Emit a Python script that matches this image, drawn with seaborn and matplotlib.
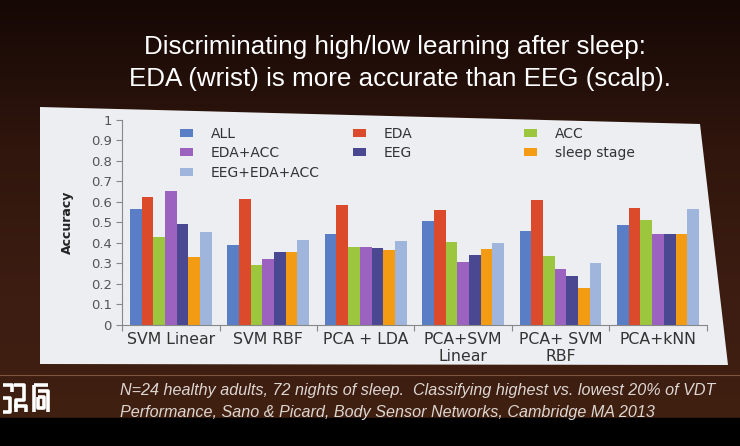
import matplotlib
matplotlib.use('Agg')
import matplotlib.pyplot as plt
from matplotlib.patches import Patch, Polygon, Rectangle
import numpy as np
import pandas as pd
import seaborn as sns

# Data
methods = ['SVM Linear', 'SVM RBF', 'PCA + LDA', 'PCA+SVM\nLinear', 'PCA+ SVM\nRBF', 'PCA+kNN']
features = ['ALL', 'EDA', 'ACC', 'EDA+ACC', 'EEG', 'sleep stage', 'EEG+EDA+ACC']
acc_all = [0.565, 0.39, 0.445, 0.505, 0.46, 0.485]
acc_eda = [0.625, 0.615, 0.585, 0.56, 0.61, 0.57]
acc_acc = [0.43, 0.29, 0.38, 0.405, 0.335, 0.51]
acc_eda_acc = [0.655, 0.32, 0.38, 0.305, 0.27, 0.445]
acc_eeg = [0.49, 0.355, 0.375, 0.34, 0.24, 0.445]
acc_sleep = [0.33, 0.355, 0.365, 0.37, 0.18, 0.445]
acc_combo = [0.455, 0.415, 0.41, 0.4, 0.3, 0.565]
colors = ['#5a7ec6', '#dc4a2c', '#9cc63e', '#9b62c0', '#4a4890', '#f39c13', '#a0b5dc']

series = [acc_all, acc_eda, acc_acc, acc_eda_acc, acc_eeg, acc_sleep, acc_combo]
rows = []
for feat, vals in zip(features, series):
    for m, v in zip(methods, vals):
        rows.append({'method': m, 'feature': feat, 'accuracy': v})
df = pd.DataFrame(rows)

fig = plt.figure(figsize=(7.4, 4.46), dpi=100)

# slide background in pixel coordinates
bg = fig.add_axes([0, 0, 1, 1])
grad = np.linspace(0, 1, 200)[:, None]
bg_cmap = matplotlib.colors.LinearSegmentedColormap.from_list('bg', ['#160805', '#30160d', '#3d1d12', '#40200f'])
bg.imshow(grad, cmap=bg_cmap, extent=[0, 740, 446, 0], aspect='auto')
bg.set_xlim(0, 740)
bg.set_ylim(446, 0)
bg.axis('off')
bg.add_patch(Rectangle((0, 418), 740, 30, color='black'))
bg.add_patch(Polygon([(40, 107), (700, 124), (728, 365), (40, 364)], closed=True,
                     facecolor='#eceef1', edgecolor='none'))
bg.plot([0, 740], [375, 375], color='#7d5343', lw=0.8)

# title
bg.text(395, 47, 'Discriminating high/low learning after sleep:', color='white',
        fontsize=18.7, family='Liberation Sans', ha='center', va='center')
bg.text(400, 79, 'EDA (wrist) is more accurate than EEG (scalp).', color='white',
        fontsize=18.7, family='Liberation Sans', ha='center', va='center')

# footer
bg.text(120, 391, 'N=24 healthy adults, 72 nights of sleep.  Classifying highest vs. lowest 20% of VDT',
        color='#ddd6d2', fontsize=11.6, style='italic', family='Liberation Sans', va='center')
bg.text(120, 413, 'Performance, Sano & Picard, Body Sensor Networks, Cambridge MA 2013',
        color='#ddd6d2', fontsize=11.6, style='italic', family='Liberation Sans', va='center')

# logo sketch
logo = [[(3, 385), (12, 385), (12, 392)], [(3, 398), (10, 398), (10, 412), (3, 412)],
        [(14, 385), (24, 385), (24, 400), (16, 400), (16, 412)],
        [(14, 406), (26, 406), (26, 412)],
        [(34, 385), (48, 385)], [(34, 385), (34, 412)], [(38, 391), (48, 391), (48, 412)],
        [(38, 397), (44, 397), (44, 408), (38, 408), (38, 397)]]
for seg in logo:
    xs, ys = zip(*seg)
    bg.plot(xs, ys, color='white', lw=2.6, solid_capstyle='butt')

# chart
ax = fig.add_axes([0.165, 0.272, 0.79, 0.459])
ax.patch.set_alpha(0)
sns.barplot(data=df, x='method', y='accuracy', hue='feature', palette=colors,
            width=0.84, saturation=1, legend=False, ax=ax)
ax.set_ylim(0, 1)
ax.set_xlim(-0.5, 5.5)
ax.set_yticks(np.arange(0, 1.01, 0.1))
ax.set_yticklabels(['0', '0.1', '0.2', '0.3', '0.4', '0.5', '0.6', '0.7', '0.8', '0.9', '1'])
ax.set_xticks(np.arange(-0.5, 6, 1))
ax.set_xticklabels([])
ax.set_xticks(range(len(methods)), minor=True)
ax.set_xticklabels(methods, minor=True, fontsize=11.3, color='#333333', linespacing=1.2)
ax.tick_params(axis='x', which='major', length=4, color='#888888')
ax.tick_params(axis='x', which='minor', length=0, pad=5)
ax.tick_params(axis='y', length=4, color='#888888', labelsize=9.5, labelcolor='#555555')
ax.set_xlabel('')
ax.set_ylabel('Accuracy', fontsize=9, fontweight='bold', color='#222222', labelpad=12)
for s in ['top', 'right']:
    ax.spines[s].set_visible(False)
for s in ['left', 'bottom']:
    ax.spines[s].set_color('#888888')

# legend in three columns
handles = [Patch(facecolor=c, edgecolor='none') for c in colors]
groups = [([0, 3, 6], 174), ([1, 4], 347), ([2, 5], 518)]
for idx, xpix in groups:
    leg = fig.legend([handles[i] for i in idx], [features[i] for i in idx],
                     loc='upper left', bbox_to_anchor=(xpix / 740, 1 - 121 / 446),
                     frameon=False, fontsize=10, handlelength=0.95, handleheight=0.5,
                     labelspacing=0.4, handletextpad=1.3, borderaxespad=0)
    for t in leg.get_texts():
        t.set_color('#333333')

fig.savefig('out.png', dpi=100)
